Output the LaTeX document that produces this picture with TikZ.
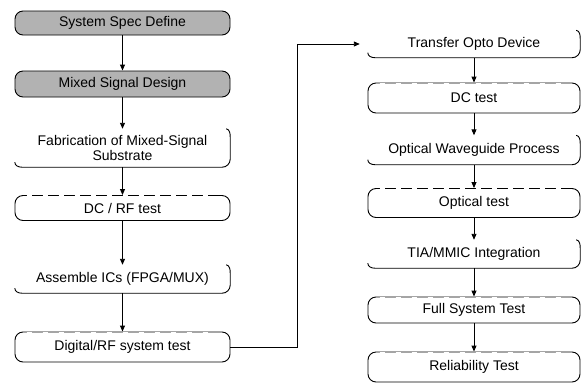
\documentclass[tikz,border=0pt]{standalone}
\usepackage{fontspec}
\setmainfont{Liberation Sans}
\usetikzlibrary{arrows.meta,calc}
\newcommand{\procoutline}[1]{%
  \draw[boxline] ([yshift=5pt]#1.south west) to[out=-90,in=180] ([xshift=7pt]#1.south west)
    -- ([xshift=-8pt]#1.south east) to[out=0,in=-90] ([yshift=8pt]#1.south east)
    -- ([yshift=-8pt]#1.north east) to[out=90,in=-10] ([xshift=-4pt]#1.north east);}
\newcommand{\faintop}[1]{%
  \draw[white, line width=0.7pt, dash pattern=on 5pt off 11pt] ([xshift=12pt,yshift=-0.3pt]#1.north west) -- ([xshift=-12pt,yshift=-0.3pt]#1.north east);}
\begin{document}
\begin{tikzpicture}[x=1pt,y=-1pt,
  every node/.style={font=\fontsize{14}{15}\selectfont, inner sep=0pt, align=center},
  boxline/.style={line width=0.9pt},
  testbox/.style={draw, boxline, rounded corners=8pt, minimum width=#1},
  testbox/.default=215pt,
  shadebox/.style={testbox, fill=gray!60},
  procbox/.style={minimum width=#1},
  procbox/.default=215pt,
  arr/.style={-{Triangle[length=6pt,width=5pt]}, line width=0.9pt}]
\useasboundingbox (0,0) rectangle (582,384);
% left column
\node[shadebox, minimum height=24pt] (spec) at (122.5,23) {System Spec Define};
\node[shadebox, minimum height=26pt] (mixed) at (122.5,84) {Mixed Signal Design};
\node[procbox, minimum height=38pt] (fab) at (122.5,148) {Fabrication of Mixed-Signal\\Substrate};
\node[testbox, minimum height=25pt] (dcrf) at (122.5,208) {DC / RF test};
\node[procbox, minimum height=28pt] (asm) at (122.5,279) {Assemble ICs (FPGA/MUX)};
\node[testbox, minimum height=30pt] (digrf) at (122.5,347) {Digital/RF system test};
% right column
\node[procbox=212pt, minimum height=27pt] (transfer) at (474,44) {Transfer Opto Device};
\node[testbox=212pt, minimum height=30pt] (dc) at (474,98) {DC test};
\node[procbox=212pt, minimum height=29pt] (owg) at (474,150) {Optical Waveguide Process};
\node[testbox=212pt, minimum height=29pt] (opt) at (474,203) {Optical test};
\node[procbox=212pt, minimum height=28pt] (tia) at (474,254) {TIA/MMIC Integration};
\node[testbox=212pt, minimum height=26pt] (full) at (474,310) {Full System Test};
\node[testbox=212pt, minimum height=30pt] (rel) at (474,367) {Reliability Test};
\procoutline{fab}
\procoutline{asm}
\procoutline{transfer}
\procoutline{owg}
\procoutline{tia}
\faintop{dcrf}
\faintop{digrf}
\faintop{dc}
\faintop{opt}
\faintop{full}
\faintop{rel}
% connectors
\draw[arr] (spec) -- (mixed);
\draw[arr] (mixed) -- (fab);
\draw[arr] (fab) -- (dcrf);
\draw[arr] (dcrf) -- (asm);
\draw[arr] (asm) -- (digrf);
\draw[arr] (transfer) -- (dc);
\draw[arr] (dc) -- (owg);
\draw[arr] (owg) -- (opt);
\draw[arr] (opt) -- (tia);
\draw[arr] (tia) -- (full);
\draw[arr] (full) -- (rel);
\coordinate (bend) at ($(digrf.east)+(67pt,0)$);
\draw[arr] (digrf.east) -- (bend) |- ([xshift=-8pt]transfer.west);
\end{tikzpicture}
\end{document}
